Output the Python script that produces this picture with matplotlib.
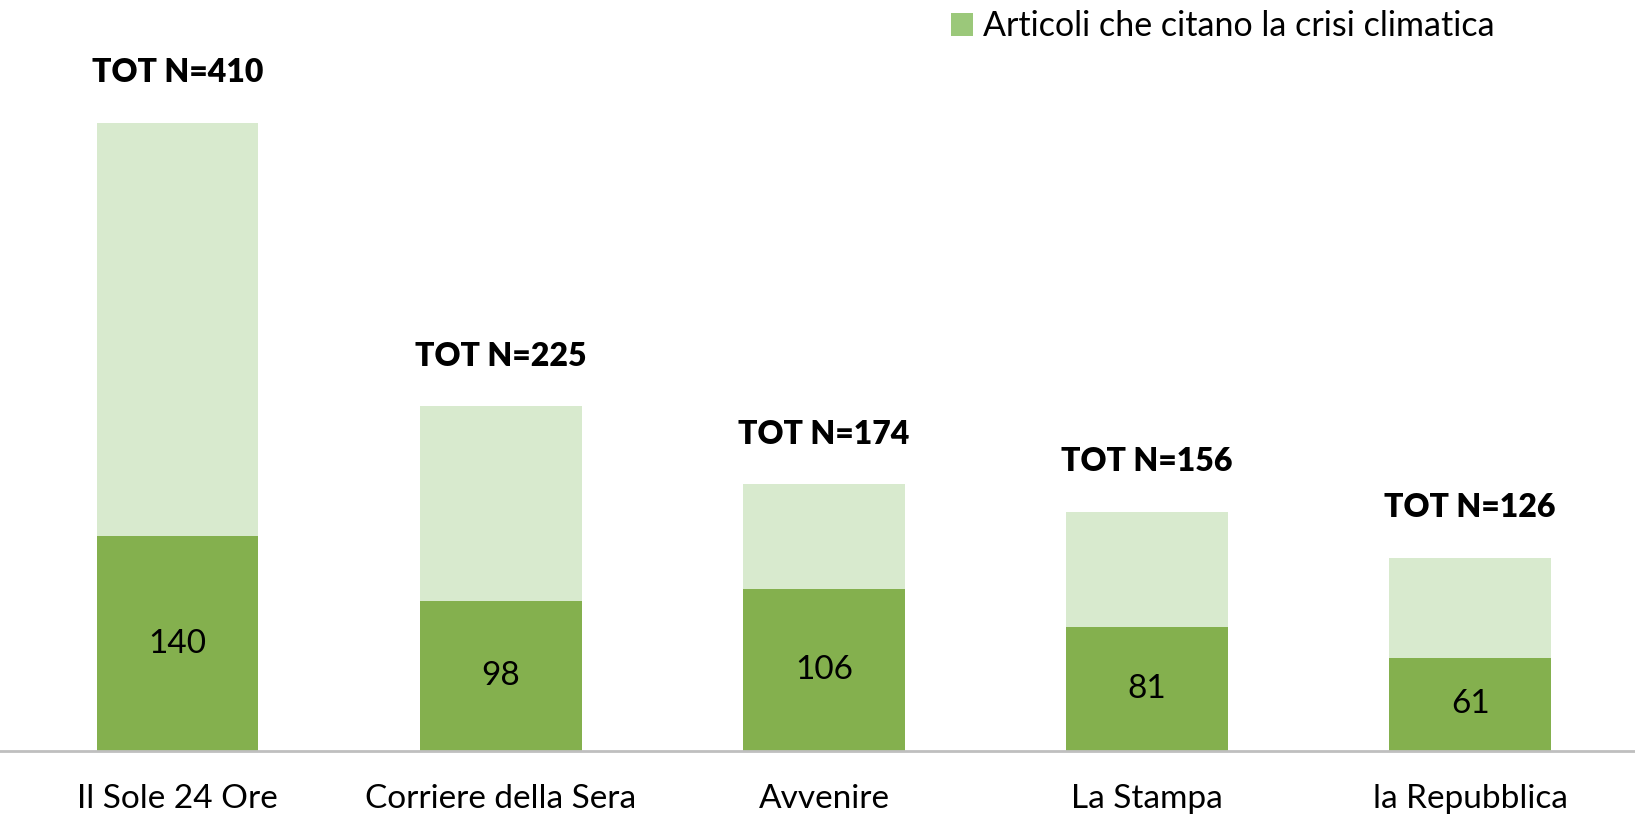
import numpy as np
import matplotlib.pyplot as plt
from matplotlib.patches import Patch

# dati
testate = ["Il Sole 24 Ore", "Corriere della Sera", "Avvenire", "La Stampa", "la Repubblica"]
totali = [410, 225, 174, 156, 126]
crisi = [140, 98, 106, 81, 61]

plt.rcParams['font.family'] = ['Lato', 'DejaVu Sans']

fig = plt.figure(figsize=(16.35, 8.18), dpi=100)
ax = fig.add_axes([0, 67/818, 1, 751/818])

x = np.arange(len(testate))
resto = [t - c for t, c in zip(totali, crisi)]

ax.bar(x, crisi, width=0.5, color='#84B04E')
ax.bar(x, resto, width=0.5, bottom=crisi, color='#D8EACE')

for i in range(len(testate)):
    ax.text(x[i], crisi[i] / 2, str(crisi[i]), ha='center', va='center', fontsize=24)
    ax.annotate("TOT N=%d" % totali[i], xy=(x[i], totali[i]), xytext=(0, 36),
                textcoords='offset points', ha='center', va='center',
                fontsize=23, fontweight='heavy')

ax.set_xlim(-0.55, 4.51)
ax.set_ylim(0, 490)
ax.set_xticks(x)
ax.set_xticklabels(testate, fontsize=24)
ax.tick_params(axis='x', length=0, pad=24)
ax.set_yticks([])
for s in ['top', 'right', 'left']:
    ax.spines[s].set_visible(False)
ax.spines['bottom'].set_color('#BFBFBF')
ax.spines['bottom'].set_linewidth(2)

handle = Patch(facecolor='#9BC87A', edgecolor='none')
ax.legend([handle], ["Articoli che citano la crisi climatica"], loc='upper right',
          bbox_to_anchor=(0.933, 1.027), frameon=False, fontsize=24.5,
          handlelength=0.65, handleheight=0.65, handletextpad=0.3)

plt.savefig("out.png", dpi=100)
